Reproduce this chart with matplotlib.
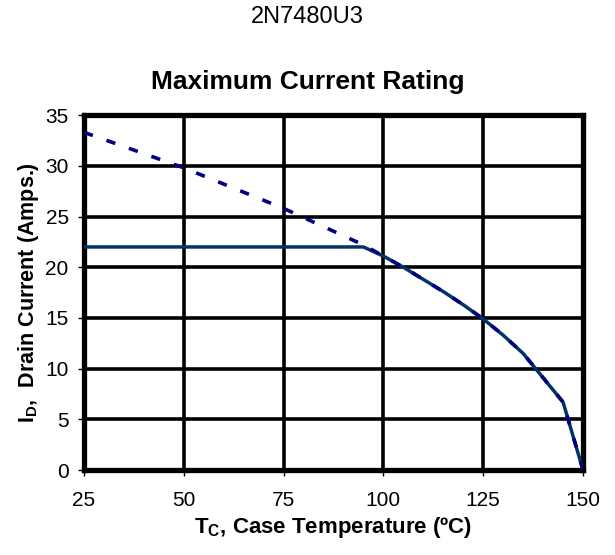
import matplotlib
matplotlib.use("Agg")
import matplotlib.pyplot as plt

plt.rcParams['font.family'] = ['Liberation Sans', 'DejaVu Sans']

temps = [25, 50, 75, 95, 100, 105, 110, 115, 120, 125, 130, 135, 145, 150]
package_limit = [22.0, 22.0, 22.0, 22.0, 21.1, 20.0, 18.8, 17.6, 16.3, 14.9, 13.3, 11.5, 6.7, 0.0]
die_limit = [33.3, 29.8, 25.8, 22.2, 21.1, 20.0, 18.8, 17.6, 16.3, 14.9, 13.3, 11.5, 6.7, 0.0]
x_ticks = [25, 50, 75, 100, 125, 150]
y_ticks = [0, 5, 10, 15, 20, 25, 30, 35]

fig = plt.figure(figsize=(6.15, 5.55), dpi=100)
ax = fig.add_axes([0.1366, 0.153, 0.8114, 0.6396])

ax.plot(temps, package_limit, color='#003366', lw=2.5, solid_capstyle='butt', zorder=3)
ax.plot(temps, die_limit, color='#000080', lw=2.6, dashes=(2.6, 4.0), zorder=4)

ax.set_xlim(25, 150)
ax.set_ylim(0, 35)
ax.set_xticks(x_ticks)
ax.set_yticks(y_ticks)
ax.grid(True, color='black', lw=2.6)
ax.set_axisbelow(True)
for s in ax.spines.values():
    s.set_linewidth(3.8)
    s.set_color('black')
ax.tick_params(direction='out', length=4, width=1, labelsize=15)
ax.tick_params(axis='y', pad=7)
ax.tick_params(axis='x', pad=11)

ax.set_xlabel(r'T$_\mathregular{C}$, Case Temperature (ºC)', fontsize=16, fontweight='bold', labelpad=4)
ax.set_ylabel(r'I$_\mathregular{D}$,  Drain Current (Amps.)', fontsize=15.5, fontweight='bold', labelpad=3)

fig.text(0.5, 0.969, '2N7480U3', ha='center', va='center', fontsize=17)
fig.text(0.5, 0.852, 'Maximum Current Rating', ha='center', va='center', fontsize=19, fontweight='bold')

fig.savefig('out.png', dpi=100)
